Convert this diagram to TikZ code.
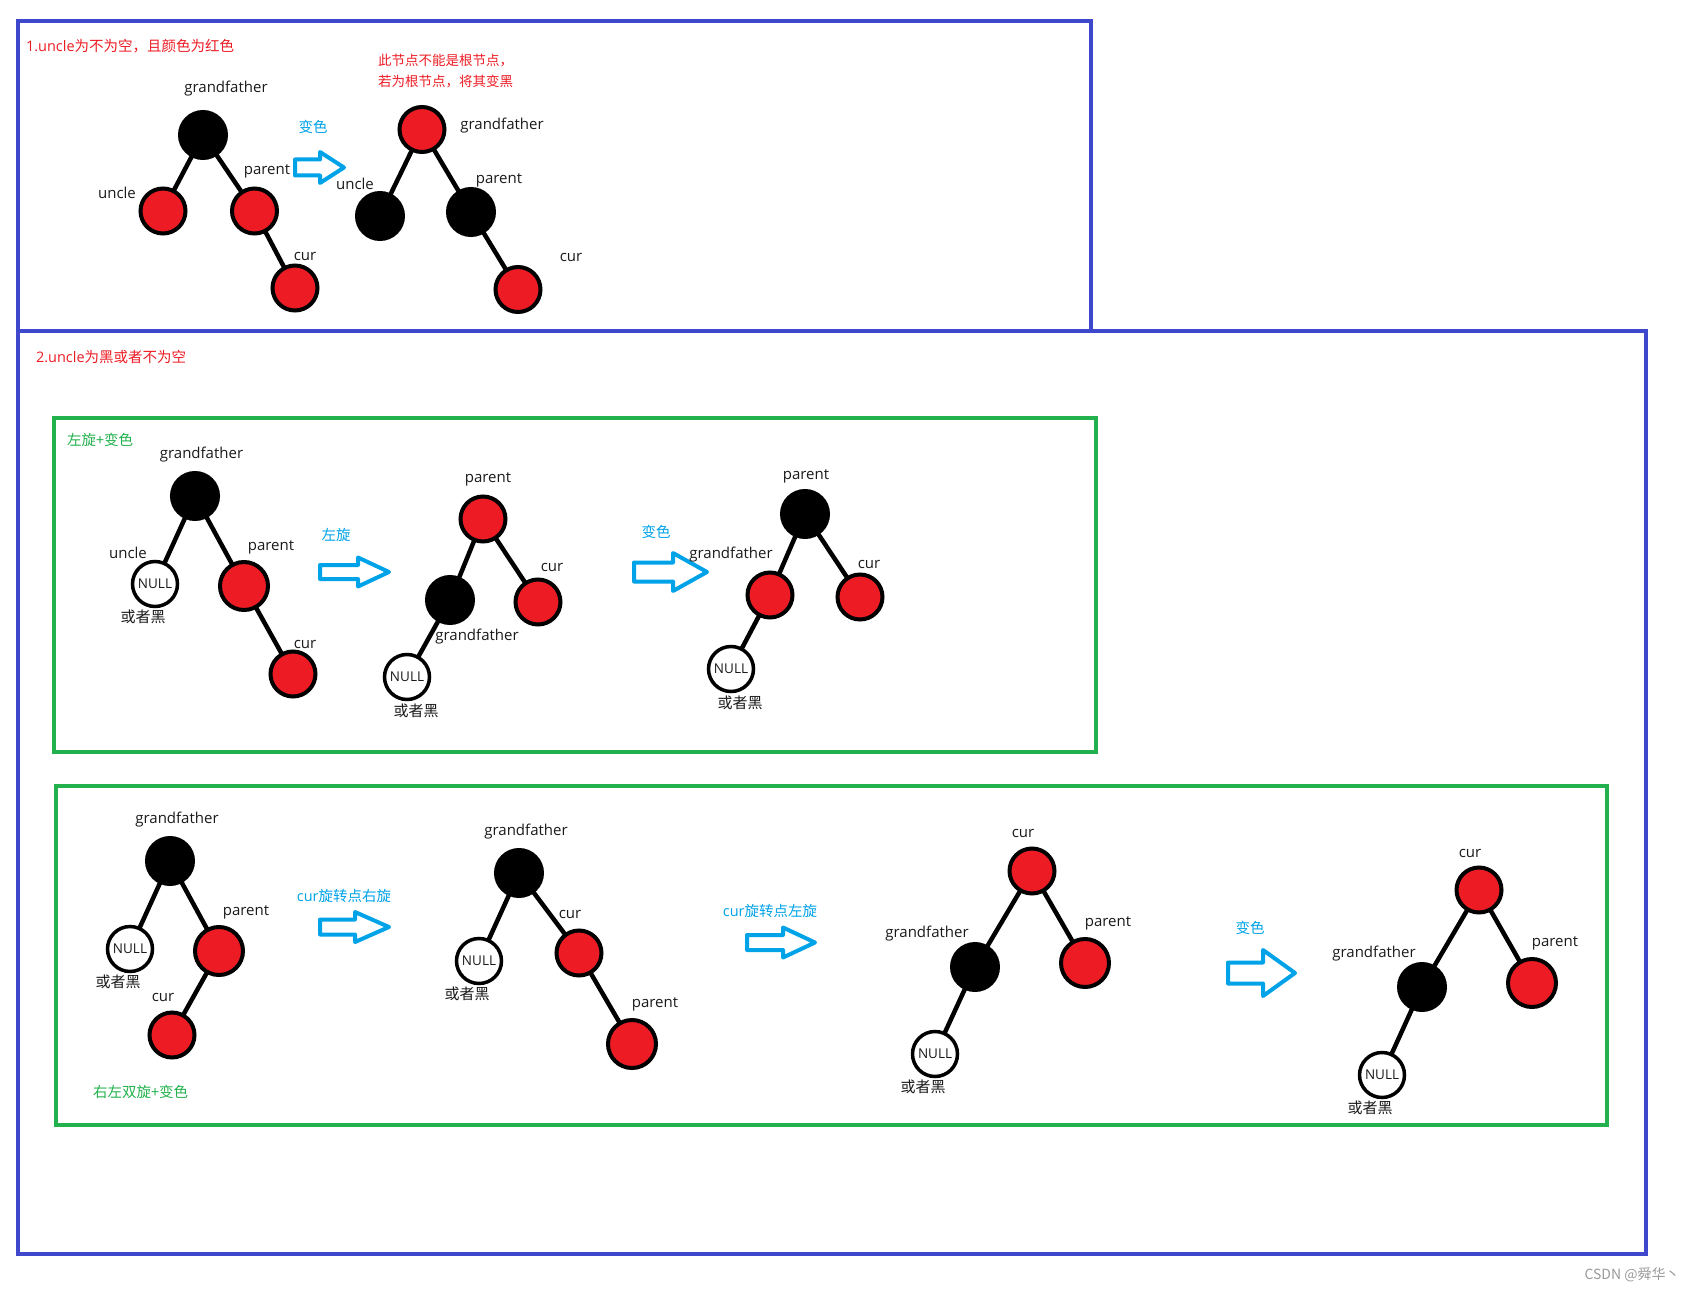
\documentclass[tikz,border=0pt]{standalone}
\usepackage{fontspec}
\setmainfont{Open Sans}
\newfontfamily\cjk{Noto Sans CJK SC}
\usetikzlibrary{positioning}
\definecolor{paintred}{HTML}{ED1C24}
\definecolor{paintblue}{HTML}{00A2E8}
\definecolor{paintgreen}{HTML}{22B14C}
\definecolor{boxblue}{HTML}{3F48CC}
\definecolor{labelgray}{HTML}{1A1A1A}

% hollow block arrow: x0, y centre, head base x, tip x, shaft half, head half
\newcommand{\fatarrow}[6]{%
  \draw[arrowline] (#1,#2-#5) -- (#3,#2-#5) -- (#3,#2-#6) -- (#4,#2)
    -- (#3,#2+#6) -- (#3,#2+#5) -- (#1,#2+#5) -- cycle;}

\begin{document}
\begin{tikzpicture}[x=1pt,y=-1pt,
		every node/.style={outer sep=0pt,inner sep=0pt},
		redn/.style={circle,draw=black,line width=4pt,fill=paintred,minimum size=45pt},
		blackn/.style={circle,draw=black,line width=4pt,fill=black,minimum size=46pt},
		nulln/.style={circle,draw=black,line width=3.5pt,fill=white,minimum size=45pt,
		text=labelgray,font=\fontsize{13.5}{15}\selectfont},
		branch/.style={line width=4.5pt},
		lbl/.style={text=labelgray,font=\fontsize{15}{17}\selectfont},
		op/.style={text=paintblue,font=\cjk\fontsize{14.5}{17}\selectfont},
		headline/.style={anchor=west,font=\fontsize{14.5}{17}\selectfont},
		note/.style={anchor=west,text=paintred,font=\cjk\fontsize{13.5}{16}\selectfont},
		arrowline/.style={draw=paintblue,line width=4pt,line join=round},
		bluebox/.style={draw=boxblue,line width=4pt},
		greenbox/.style={draw=paintgreen,line width=4pt},
		]
		\useasboundingbox (0,0) rectangle (1695,1292);

		\draw[bluebox] (18,21) rectangle (1091,331);
		\draw[bluebox] (18,331) rectangle (1646,1254);
		\draw[greenbox] (54,418) rectangle (1096,752);
		\draw[greenbox] (56,786) rectangle (1607,1125);

		% 1. uncle red
		\node[headline,text=paintred] (h1) at (26,46) {1.uncle{\cjk 为不为空，且颜色为红色}};

		\node[blackn] (a-gf) at (203,135) {};
		\node[redn] (a-un) at (163,211) {};
		\node[redn] (a-pa) at (254.5,211) {};
		\node[redn] (a-cu) at (295,288) {};
		\draw[branch] (a-gf) -- (a-un);
		\draw[branch] (a-gf) -- (a-pa);
		\draw[branch] (a-pa) -- (a-cu);
		\node[lbl] (a-gf-t) at (226,89) {grandfather};
		\node[lbl] (a-un-t) at (117,193) {uncle};
		\node[lbl] (a-pa-t) at (267,171) {parent};
		\node[lbl] (a-cu-t) at (305,256) {cur};

		\node[op] (a-op) at (313,127) {变色};
		\fatarrow{295}{167.5}{320}{344}{8}{15.5}

		\node[redn] (b-gf) at (422,129.5) {};
		\node[blackn] (b-un) at (380,216) {};
		\node[blackn] (b-pa) at (471,212) {};
		\node[redn] (b-cu) at (518,289.5) {};
		\draw[branch] (b-gf) -- (b-un);
		\draw[branch] (b-gf) -- (b-pa);
		\draw[branch] (b-pa) -- (b-cu);
		\node[lbl] (b-gf-t) at (502,126) {grandfather};
		\node[lbl] (b-un-t) at (355,184) {uncle};
		\node[lbl] (b-pa-t) at (499,180) {parent};
		\node[lbl] (b-cu-t) at (571,257) {cur};
		\node[note] (b-n1) at (378,61) {此节点不能是根节点，};
		\node[note] (b-n2) at (378,81) {若为根节点，将其变黑};

		% 2. uncle black or null
		\node[headline,text=paintred] (h2) at (36,357) {2.uncle{\cjk 为黑或者不为空}};
		\node[headline,text=paintgreen,font=\cjk\fontsize{14.5}{17}\selectfont] (g1-t) at (67,440) {左旋+变色};

		\node[blackn] (c-gf) at (195,496) {};
		\node[nulln] (c-un) at (155,584) {NULL};
		\node[redn,minimum size=48pt] (c-pa) at (244,586) {};
		\node[redn] (c-cu) at (293,674) {};
		\draw[branch] (c-gf) -- (c-un);
		\draw[branch] (c-gf) -- (c-pa);
		\draw[branch] (c-pa) -- (c-cu);
		\node[lbl] (c-gf-t) at (201.5,455) {grandfather};
		\node[lbl] (c-un-t) at (128,553) {uncle};
		\node[lbl] (c-un-b) at (143,617) {\cjk 或者黑};
		\node[lbl] (c-pa-t) at (271,547) {parent};
		\node[lbl] (c-cu-t) at (305,644) {cur};

		\node[op] (c-op) at (336,535) {左旋};
		\fatarrow{320}{572}{358}{389}{7}{14.5}

		\node[redn] (d-pa) at (483,519) {};
		\node[blackn] (d-gf) at (450,600) {};
		\node[redn] (d-cu) at (538,602) {};
		\node[nulln] (d-un) at (407,677) {NULL};
		\draw[branch] (d-pa) -- (d-gf);
		\draw[branch] (d-pa) -- (d-cu);
		\draw[branch] (d-gf) -- (d-un);
		\node[lbl] (d-pa-t) at (488,479) {parent};
		\node[lbl] (d-cu-t) at (552,567) {cur};
		\node[lbl] (d-gf-t) at (477,637) {grandfather};
		\node[lbl] (d-un-b) at (416,711) {\cjk 或者黑};

		\node[op] (d-op) at (656,532) {变色};
		\fatarrow{634}{572}{673}{707}{9.5}{19}

		\node[blackn] (e-pa) at (805,514) {};
		\node[redn] (e-gf) at (770,595) {};
		\node[redn] (e-cu) at (860,597) {};
		\node[nulln] (e-un) at (731,669) {NULL};
		\draw[branch] (e-pa) -- (e-gf);
		\draw[branch] (e-pa) -- (e-cu);
		\draw[branch] (e-gf) -- (e-un);
		\node[lbl] (e-pa-t) at (806,476) {parent};
		\node[lbl] (e-gf-t) at (731,555) {grandfather};
		\node[lbl] (e-cu-t) at (869,564) {cur};
		\node[lbl] (e-un-b) at (740,703) {\cjk 或者黑};

		% double rotation
		\node[blackn] (f-gf) at (170,861) {};
		\node[nulln] (f-un) at (130,949) {NULL};
		\node[redn,minimum size=48pt] (f-pa) at (219,951) {};
		\node[redn] (f-cu) at (172,1035) {};
		\draw[branch] (f-gf) -- (f-un);
		\draw[branch] (f-gf) -- (f-pa);
		\draw[branch] (f-pa) -- (f-cu);
		\node[lbl] (f-gf-t) at (177,820) {grandfather};
		\node[lbl] (f-un-b) at (118,982) {\cjk 或者黑};
		\node[lbl] (f-pa-t) at (246,912) {parent};
		\node[lbl] (f-cu-t) at (163,997) {cur};
		\node[headline,text=paintgreen,font=\cjk\fontsize{14.5}{17}\selectfont] (g2-t) at (93,1092) {右左双旋+变色};

		\node[op,font=\fontsize{14.5}{17}\selectfont] (f-op) at (344,896) {cur{\cjk 旋转点右旋}};
		\fatarrow{320}{927}{355}{389}{7.5}{15}

		\node[blackn] (g-gf) at (519,873) {};
		\node[nulln] (g-un) at (479,961) {NULL};
		\node[redn] (g-cu) at (579,953) {};
		\node[redn,minimum size=48pt] (g-pa) at (632,1044) {};
		\draw[branch] (g-gf) -- (g-un);
		\draw[branch] (g-gf) -- (g-cu);
		\draw[branch] (g-cu) -- (g-pa);
		\node[lbl] (g-gf-t) at (526,832) {grandfather};
		\node[lbl] (g-un-b) at (467,994) {\cjk 或者黑};
		\node[lbl] (g-cu-t) at (570,914) {cur};
		\node[lbl] (g-pa-t) at (655,1004) {parent};

		\node[op,font=\fontsize{14.5}{17}\selectfont] (g-op) at (770,911) {cur{\cjk 旋转点左旋}};
		\fatarrow{747}{942.5}{783}{815}{7.5}{15}

		\node[redn] (h-cu) at (1032,871) {};
		\node[blackn] (h-gf) at (975,967) {};
		\node[redn,minimum size=48pt] (h-pa) at (1085,963) {};
		\node[nulln] (h-un) at (935,1054) {NULL};
		\draw[branch] (h-cu) -- (h-gf);
		\draw[branch] (h-cu) -- (h-pa);
		\draw[branch] (h-gf) -- (h-un);
		\node[lbl] (h-cu-t) at (1023,833) {cur};
		\node[lbl] (h-gf-t) at (927,934) {grandfather};
		\node[lbl] (h-pa-t) at (1108,923) {parent};
		\node[lbl] (h-un-b) at (923,1087) {\cjk 或者黑};

		\node[op] (h-op) at (1250,928) {变色};
		\fatarrow{1228}{973}{1263}{1295}{10.5}{23}

		\node[redn] (i-cu) at (1479,890) {};
		\node[blackn] (i-gf) at (1422,987) {};
		\node[redn,minimum size=48pt] (i-pa) at (1532,983) {};
		\node[nulln] (i-un) at (1382,1075) {NULL};
		\draw[branch] (i-cu) -- (i-gf);
		\draw[branch] (i-cu) -- (i-pa);
		\draw[branch] (i-gf) -- (i-un);
		\node[lbl] (i-cu-t) at (1470,853) {cur};
		\node[lbl] (i-gf-t) at (1374,954) {grandfather};
		\node[lbl] (i-pa-t) at (1555,943) {parent};
		\node[lbl] (i-un-b) at (1370,1108) {\cjk 或者黑};

		\node[text=gray!80,font=\cjk\fontsize{14}{16}\selectfont] (mark) at (1632,1275) {CSDN @舜华丶};
\end{tikzpicture}
\end{document}
